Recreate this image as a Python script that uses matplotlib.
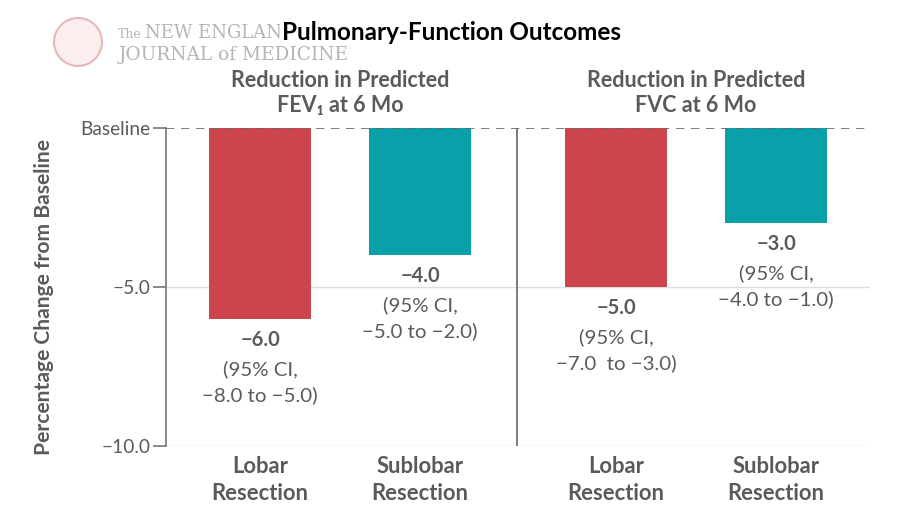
import matplotlib
matplotlib.use("Agg")
import matplotlib.pyplot as plt
from matplotlib.patches import Ellipse

plt.rcParams['font.family'] = ['Lato', 'DejaVu Sans']

# data
groups = ["Reduction in Predicted\nFEV\u2081 at 6 Mo", "Reduction in Predicted\nFVC at 6 Mo"]
categories = ["Lobar\nResection", "Sublobar\nResection", "Lobar\nResection", "Sublobar\nResection"]
values = [-6.0, -4.0, -5.0, -3.0]
ci_text = ["\u22128.0 to \u22125.0)", "\u22125.0 to \u22122.0)", "\u22127.0  to \u22123.0)", "\u22124.0 to \u22121.0)"]
yticks = [0, -5, -10]
ytick_labels = ["Baseline", "\u22125.0", "\u221210.0"]

positions = [0, 1, 2.225, 3.225]
colors = ["#cc454c", "#0aa0aa", "#cc454c", "#0aa0aa"]
gray = "#5a5a5a"

fig = plt.figure(figsize=(9.08, 5.29), dpi=100)
ax = fig.add_axes([166/908, 1 - 446/529, 704/908, 318/529])

ax.bar(positions, values, width=0.64, color=colors, zorder=2)
ax.set_xlim(-0.5875, 3.8125)
ax.set_ylim(-10, 0)

for y in [-5, -10]:
    ax.axhline(y, color="#dddddd", lw=1, zorder=1)
ax.axhline(0, color="#666666", lw=1.2, ls=(0, (5, 4)), zorder=3)
ax.axvline(1.606, color="#666666", lw=1.2, zorder=1)

for s in ["top", "right", "bottom"]:
    ax.spines[s].set_visible(False)
ax.spines["left"].set_color("#777777")
ax.spines["left"].set_linewidth(1.2)
ax.set_yticks(yticks)
ax.set_yticklabels(ytick_labels, fontsize=13.8, color=gray)
ax.tick_params(axis="y", length=9.4, color="#777777", width=1.2, pad=1.5)
ax.set_xticks(positions)
ax.set_xticklabels(categories, fontsize=15.8, fontweight="bold", color=gray, linespacing=1.35)
ax.tick_params(axis="x", length=0, pad=7)

ax.set_ylabel("Percentage Change from Baseline", fontsize=15.1, fontweight="bold",
              color=gray)
ax.yaxis.set_label_coords(-0.159, 0.467)

for x, v, ci in zip(positions, values, ci_text):
    ax.annotate("\u2212%.1f" % abs(v), (x, v), xytext=(0, -21), textcoords="offset pixels",
                ha="center", va="center", fontsize=14.5, fontweight="bold", color=gray)
    ax.annotate("(95% CI,", (x, v), xytext=(0, -50), textcoords="offset pixels",
                ha="center", va="center", fontsize=14.7, color=gray)
    ax.annotate(ci, (x, v), xytext=(0, -76), textcoords="offset pixels",
                ha="center", va="center", fontsize=14.7, color=gray)

for i, g in enumerate(groups):
    xc = (positions[2*i] + positions[2*i+1]) / 2
    ax.annotate(g, (xc, 0), xytext=(0, 35), textcoords="offset pixels",
                ha="center", va="center", fontsize=15.5, fontweight="bold",
                color=gray, linespacing=1.25, annotation_clip=False)

# journal logo
fig.patches.append(Ellipse((78/908, 1 - 42/529), 48/908, 48/529, transform=fig.transFigure,
                           facecolor="#fbeeee", edgecolor="#e8b8b8", lw=1.5))
fig.text(118/908, 1 - 34/529, "The", fontsize=9, family="DejaVu Serif",
         color="#b5b5b5", va="center")
fig.text(145/908, 1 - 33/529, "NEW ENGLAND", fontsize=13, family="DejaVu Serif",
         color="#b5b5b5", va="center")
fig.text(118/908, 1 - 55/529, "JOURNAL of MEDICINE", fontsize=13.3, family="DejaVu Serif",
         color="#b5b5b5", va="center")

fig.text(451/908, 1 - 33/529, "Pulmonary-Function Outcomes", fontsize=17.5,
         fontweight="bold", color="black", ha="center", va="center",
         bbox=dict(facecolor="white", edgecolor="none", pad=1))

fig.savefig("out.png", dpi=100)
